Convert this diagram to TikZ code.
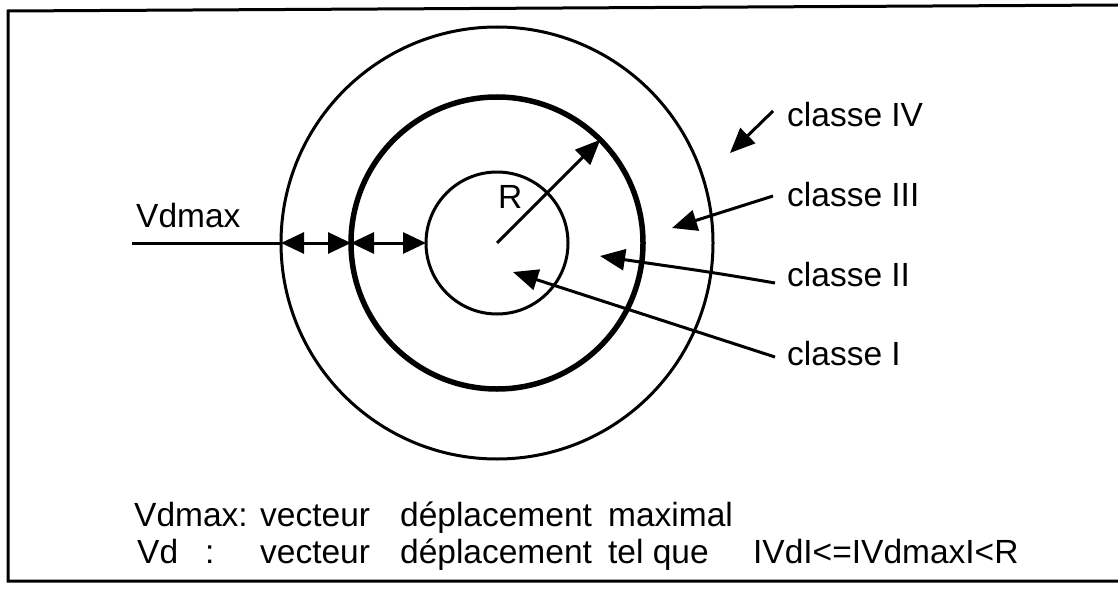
\documentclass[tikz,border=0pt]{standalone}
\usepackage{fontspec}
\setmainfont{Liberation Sans}
\usetikzlibrary{arrows.meta}
\begin{document}
\begin{tikzpicture}[x=1pt,y=-1pt,
  ln/.style={line width=3pt},
  tip/.style={-{Triangle[length=25pt,width=21pt]}},
  dtip/.style={{Triangle[length=23pt,width=21pt]}-{Triangle[length=23pt,width=21pt]}},
  lbl/.style={anchor=base west, inner sep=0pt, font=\fontsize{33.5}{40}\selectfont},
  ring/.style={circle, draw, inner sep=0pt, outer sep=0pt}]
\useasboundingbox (0,0) rectangle (1118,591);
% frame
\draw[ln] (1118,5) -- (8,11) -- (8,581) -- (1118,581);
% rings
\coordinate (O) at (497,243);
\node[ring, ln, minimum size=142pt] (inner) at (O) {};
\node[ring, line width=5.5pt, minimum size=292pt] (mid) at (O) {};
\node[ring, ln, minimum size=432pt] (outer) at (O) {};
% Vdmax
\coordinate (vl) at (132,243);
\draw[ln] (vl) -- (outer.west);
\node[lbl] (vdl) at (136,227) {Vdmax};
\draw[ln, dtip] (outer.west) -- (mid.west);
\draw[ln, dtip] (mid.west) -- (inner.west);
% R
\draw[ln, tip] (O) -- (mid.45);
\node[lbl] (rl) at (498,208) {R};
% classes
\coordinate (s4) at (773,111); \coordinate (t4) at (730,153);
\coordinate (s3) at (773,196); \coordinate (t3) at (672,228);
\coordinate (s2) at (775,283); \coordinate (t2) at (600,256);
\coordinate (s1) at (775,357); \coordinate (t1) at (513,272);
\draw[ln, tip] (s4) -- (t4);
\draw[ln, tip] (s3) -- (t3);
\draw[ln, tip] (s2) .. controls (700,270) and (680,268) .. (t2);
\draw[ln, tip] (s1) -- (t1);
\node[lbl] (c4) at (787,127) {classe IV};
\node[lbl] (c3) at (787,206) {classe III};
\node[lbl] (c2) at (787,286) {classe II};
\node[lbl] (c1) at (787,365) {classe I};
% legend
\node[lbl] (b1) at (134,526) {\makebox[126pt][l]{Vdmax:}\makebox[140pt][l]{vecteur}\makebox[208pt][l]{déplacement}maximal};
\node[lbl] (b2) at (137,563) {\makebox[68pt][l]{Vd}\makebox[55pt][l]{:}\makebox[140pt][l]{vecteur}\makebox[208pt][l]{déplacement}\makebox[145pt][l]{tel que}IVdI<=IVdmaxI<R};
\end{tikzpicture}
\end{document}
